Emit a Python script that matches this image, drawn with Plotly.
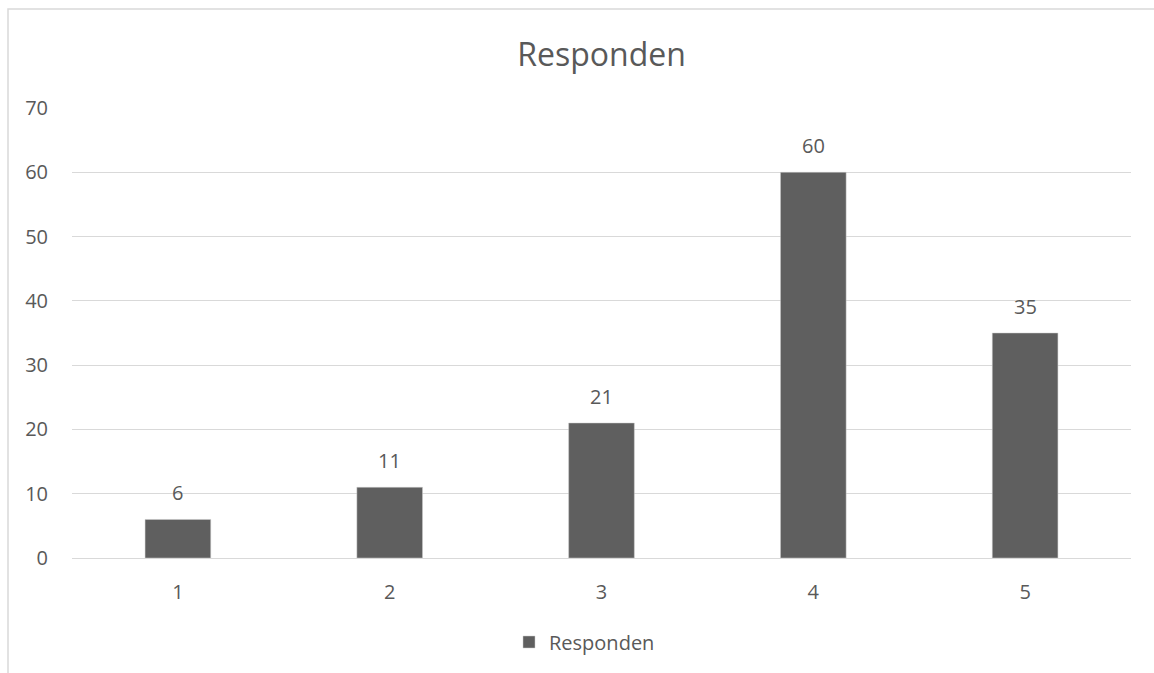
import plotly.graph_objects as go

categories = ["1", "2", "3", "4", "5"]
values = [6, 11, 21, 60, 35]
series_name = "Responden"
title_text = "Responden"
y_ticks = [0, 10, 20, 30, 40, 50, 60, 70]

W, H = 1154, 673
L, R, T, B = 72, 23, 108, 115
pw = W - L - R
ph = H - T - B

text_col = "#595959"
bar_col = "#5f5f5f"
grid_col = "#d9d9d9"
font_fam = "Open Sans, Liberation Sans, sans-serif"

fig = go.Figure()
fig.add_trace(go.Bar(
    x=categories, y=values, name=series_name,
    marker=dict(color=bar_col, line=dict(color="#cfcfcf", width=0.5)),
    width=0.31, showlegend=True,
))

annotations = []
for i, v in enumerate(values):
    annotations.append(dict(
        x=i, y=v, xref="x", yref="y", text=str(v), showarrow=False,
        yanchor="bottom", yshift=11,
        font=dict(size=20, color=text_col, family=font_fam),
    ))

fig.update_layout(
    width=W, height=H,
    margin=dict(l=L, r=R, t=T, b=B),
    paper_bgcolor="white", plot_bgcolor="white",
    title=dict(text=title_text, x=0.5, xanchor="center", xref="paper",
               y=1 - 55 / H, yref="container", yanchor="middle",
               font=dict(size=32, color=text_col, family=font_fam)),
    xaxis=dict(type="category", range=[-0.5, len(categories) - 0.5],
               showgrid=False, showline=True, linecolor=grid_col, linewidth=1,
               ticks="", tickfont=dict(size=20, color=text_col, family=font_fam),
               ticklabelstandoff=16),
    yaxis=dict(range=[0, 70], tickvals=y_ticks, showgrid=True, gridcolor=grid_col,
               gridwidth=1, zeroline=False, showline=False, ticks="",
               tickfont=dict(size=20, color=text_col, family=font_fam),
               ticklabelstandoff=23),
    legend=dict(orientation="h", x=0.5 - 17 / pw, xanchor="center",
                y=(ph - (642 - T)) / ph, yanchor="middle",
                font=dict(size=20, color=text_col, family=font_fam),
                itemwidth=30),
    annotations=annotations,
    shapes=[dict(type="rect", xref="paper", yref="paper",
                 x0=(8 - L) / pw, x1=(W + 20 - L) / pw,
                 y0=(ph - (H + 20 - T)) / ph, y1=(ph - (9 - T)) / ph,
                 line=dict(color=grid_col, width=1.5), layer="below")],
)

fig.write_html("out.html")
